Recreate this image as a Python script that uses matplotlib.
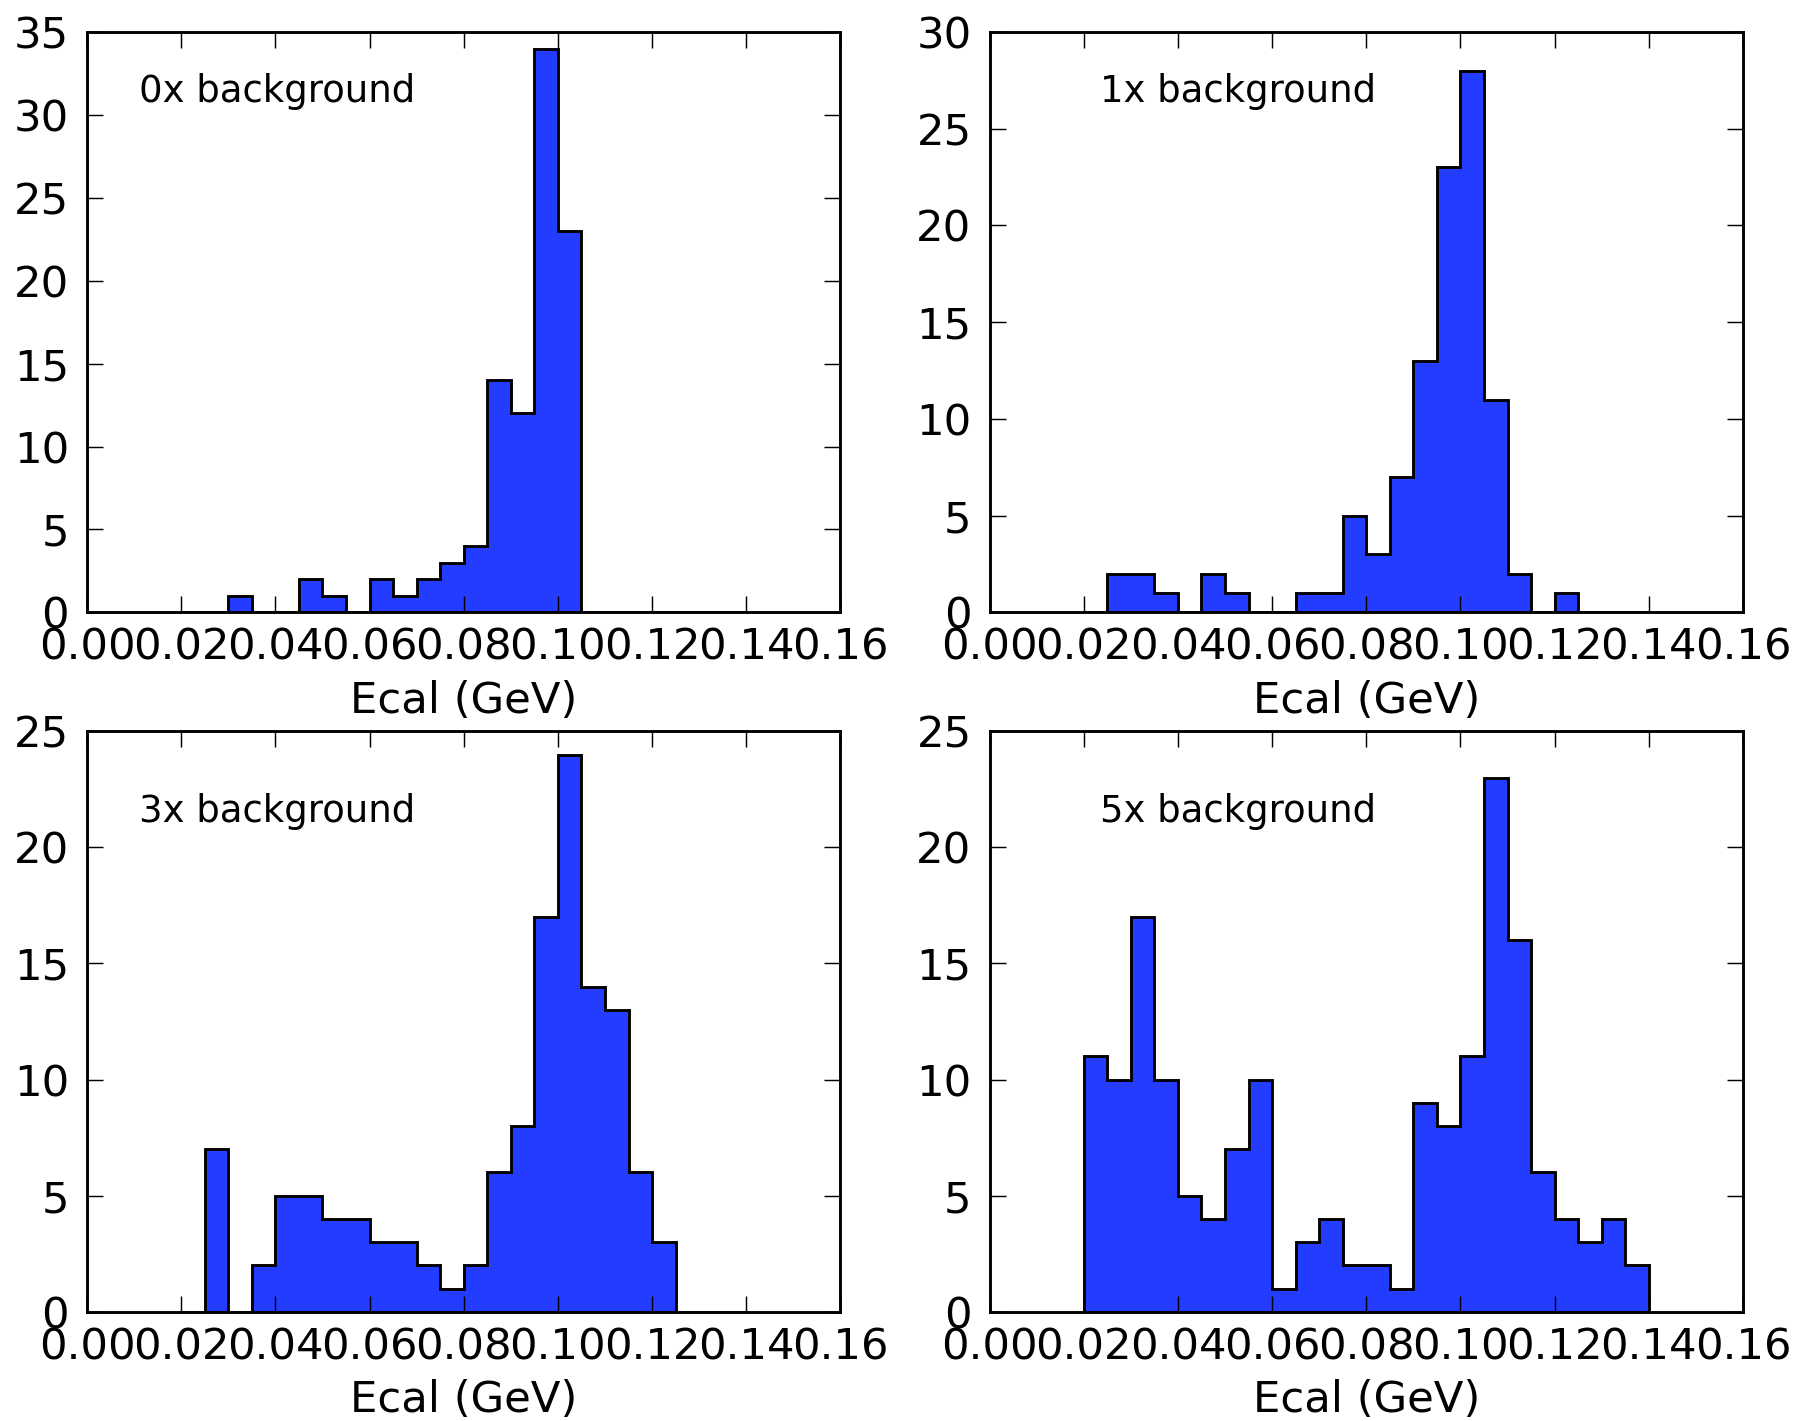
import numpy as np
import matplotlib
matplotlib.use("Agg")
import matplotlib.pyplot as plt

# bin edges (GeV), shared by all four histograms
bin_edges = [0.020, 0.025, 0.030, 0.035, 0.040, 0.045, 0.050, 0.055, 0.060,
             0.065, 0.070, 0.075, 0.080, 0.085, 0.090, 0.095, 0.100, 0.105,
             0.110, 0.115, 0.120, 0.125, 0.130, 0.135, 0.140]

# counts per bin
counts_0x = [0, 0, 1, 0, 0, 2, 1, 0, 2, 1, 2, 3, 4, 14, 12, 34, 23, 0, 0, 0, 0, 0, 0, 0]
counts_1x = [0, 2, 2, 1, 0, 2, 1, 0, 0, 1, 1, 5, 3, 7, 13, 23, 28, 11, 2, 0, 1, 0, 0, 0]
counts_3x = [0, 7, 0, 2, 5, 5, 4, 4, 3, 3, 2, 1, 2, 6, 8, 17, 24, 14, 13, 6, 3, 0, 0, 0]
counts_5x = [11, 10, 17, 10, 5, 4, 7, 10, 1, 3, 4, 2, 2, 1, 9, 8, 11, 23, 16, 6, 4, 3, 4, 2]

labels = ["0x background", "1x background", "3x background", "5x background"]
y_max = [35, 30, 25, 25]
x_ticks = [0.00, 0.02, 0.04, 0.06, 0.08, 0.10, 0.12, 0.14, 0.16]

DPI = 260
BLUE = "#243cff"

plt.rcParams.update({
    "font.family": "DejaVu Sans",
    "font.size": 12,
    "axes.linewidth": 0.8,
    "xtick.direction": "in",
    "ytick.direction": "in",
    "xtick.top": True,
    "ytick.right": True,
    "xtick.major.size": 4.5,
    "ytick.major.size": 4.5,
    "xtick.major.width": 0.4,
    "ytick.major.width": 0.4,
    "xtick.major.pad": 4,
    "ytick.major.pad": 5,
    "xtick.minor.visible": False,
    "ytick.minor.visible": False,
})

fig, axes = plt.subplots(2, 2, figsize=(1795 / DPI, 1421 / DPI), dpi=DPI)
fig.subplots_adjust(left=0.0485, right=0.971, top=0.9775, bottom=0.0769,
                    wspace=0.198, hspace=0.205)

all_counts = [counts_0x, counts_1x, counts_3x, counts_5x]
text_x = [0.0687, 0.146, 0.0687, 0.146]
text_y = [0.880, 0.880, 0.843, 0.843]

lefts = bin_edges[:-1]
for i, ax in enumerate(axes.flat):
    ax.hist(lefts, bins=bin_edges, weights=all_counts[i], histtype="stepfilled",
            facecolor=BLUE, edgecolor="black", linewidth=0.8)
    ax.set_xlim(0, 0.16)
    ax.set_ylim(0, y_max[i])
    ax.set_xticks(x_ticks)
    ax.set_xticklabels(["%.2f" % t for t in x_ticks])
    ax.set_yticks(np.arange(0, y_max[i] + 1, 5))
    ax.set_xlabel("Ecal (GeV)", labelpad=3)
    ax.text(text_x[i], text_y[i], labels[i], transform=ax.transAxes,
            fontsize=10.25, va="baseline", ha="left")

fig.savefig("out.png", dpi=DPI)
